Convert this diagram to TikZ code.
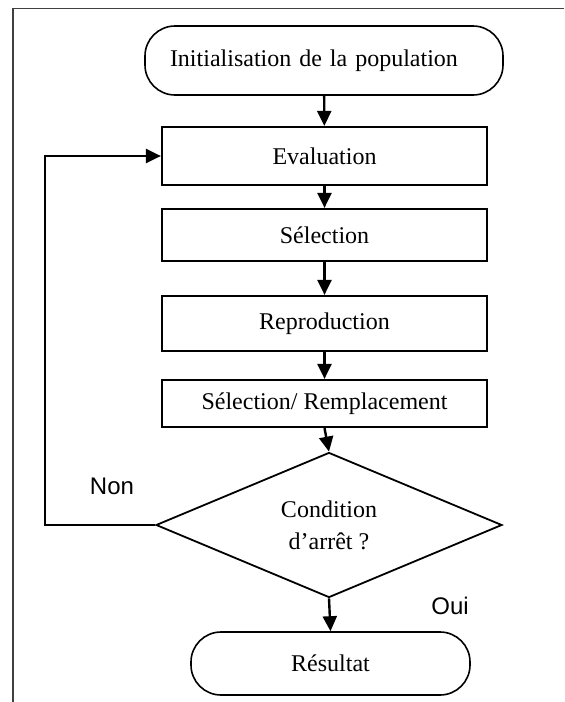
\documentclass[tikz,border=0pt]{standalone}
\usepackage{fontspec}
\setmainfont{Liberation Serif}
\newfontfamily\labelsans{Liberation Sans}
\usetikzlibrary{arrows.meta,shapes.geometric}
\begin{document}
\begin{tikzpicture}[x=0.5pt,y=-0.5pt,
  every node/.style={font=\fontsize{12}{16}\selectfont},
  flowline/.style={line width=1.2pt,-{Triangle[width=7pt,length=7.5pt]}},
  stepbox/.style={draw,line width=1.1pt,minimum width=162.5pt,inner sep=0pt},
  terminal/.style={draw,line width=0.8pt,rounded corners=15pt,inner sep=0pt},
  decision/.style={draw,line width=0.9pt,diamond,minimum width=173pt,minimum height=69pt,inner sep=0pt,align=center},
  answer/.style={font=\labelsans\fontsize{12}{14}\selectfont}]
\useasboundingbox (0,0) rectangle (564,702);

% frame
\draw[line width=0.75pt,black!75] (13,702) -- (13,8.6) -- (564,8.6);

% flow steps
\node[terminal,minimum height=34.5pt,inner xsep=12.5pt,text width=154pt,align=left] (init) at (324,60.5) {Initialisation de la population};
\node[stepbox,minimum height=29pt] (eval) at (324.5,156) {Evaluation};
\node[stepbox,minimum height=26pt] (sel) at (324.5,235) {Sélection};
\node[stepbox,minimum height=27.5pt] (repro) at (324.5,323.5) {Reproduction};
\node[stepbox,minimum height=23.5pt] (rempl) at (324.5,403.5) {Sélection/ Remplacement};
\node[decision] (cond) at (329,525) {Condition\\d’arrêt ?};
\node[terminal,minimum width=139.5pt,minimum height=31.5pt] (res) at (330.5,663.5) {Résultat};

% connectors
\draw[flowline] (init) -- (eval);
\draw[flowline] (eval) -- (sel);
\draw[flowline] (sel) -- (repro);
\draw[flowline] (repro) -- (rempl);
\draw[flowline] (rempl.south) -- (cond.north);
\draw[flowline] (cond.south) -- (res.north);
\coordinate (loop) at (45,525);
\draw[flowline] (cond.west) -- (loop) |- (eval.west);

% branch labels
\node[answer] (non) at (112,486) {Non};
\node[answer] (oui) at (450,606) {Oui};
\end{tikzpicture}
\end{document}
